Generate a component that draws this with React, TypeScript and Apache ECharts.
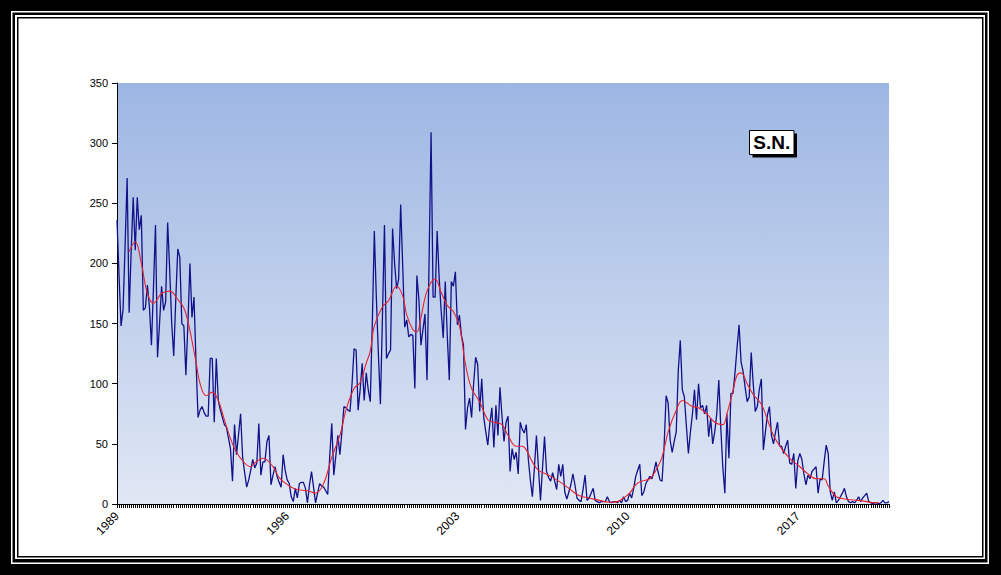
import React, { useEffect, useRef } from "react";
import * as echarts from "echarts";

// Monthly sunspot number, Jan 1989 .. Oct 2020 (one row per year)
const monthlySN: number[] = [
  236, 190, 148, 162, 215, 271, 159, 210, 255, 211, 255, 228, // 1989
  240, 161, 163, 182, 164, 132, 180, 232, 122, 150, 181, 161, // 1990
  168, 234, 195, 150, 123, 170, 212, 205, 150, 148, 107, 150, // 1991
  200, 155, 172, 118, 72, 78, 81, 76, 73, 73, 121, 121, // 1992
  68, 121, 86, 78, 72, 66, 64, 55, 46, 19, 66, 41, // 1993
  58, 75, 39, 26, 14, 20, 28, 37, 30, 34, 67, 24, // 1994
  35, 35, 52, 57, 16, 24, 31, 23, 18, 14, 41, 28, // 1995
  20, 17, 6, 2, 13, 5, 17, 18, 18, 13, 1, 16, // 1996
  27, 14, 1, 9, 17, 15, 14, 11, 8, 40, 67, 24, // 1997
  40, 57, 41, 60, 81, 80, 78, 77, 100, 129, 128, 78, // 1998
  95, 117, 86, 109, 95, 85, 150, 227, 171, 125, 83, 155, // 1999
  232, 121, 125, 128, 229, 200, 179, 187, 249, 198, 147, 153, // 2000
  139, 141, 140, 96, 190, 170, 132, 145, 158, 103, 200, 309, // 2001
  172, 172, 227, 188, 160, 138, 185, 140, 103, 185, 181, 193, // 2002
  149, 157, 140, 132, 62, 80, 88, 72, 100, 122, 116, 77, // 2003
  104, 72, 60, 49, 67, 80, 47, 82, 57, 97, 73, 52, // 2004
  68, 73, 27, 46, 37, 43, 25, 68, 62, 59, 66, 37, // 2005
  20, 6, 30, 57, 30, 3, 30, 56, 27, 22, 19, 26, // 2006
  19, 12, 33, 23, 33, 10, 4, 10, 16, 25, 16, 5, // 2007
  3, 2, 12, 24, 3, 5, 9, 13, 3, 2, 1, 2, // 2008
  2, 2, 6, 2, 1, 2, 2, 1, 3, 1, 6, 2, // 2009
  3, 9, 5, 13, 23, 28, 33, 7, 10, 17, 20, 23, // 2010
  21, 27, 35, 27, 20, 19, 48, 90, 84, 53, 43, 52, // 2011
  60, 111, 136, 95, 89, 65, 42, 60, 75, 95, 70, 100, // 2012
  80, 82, 75, 82, 56, 71, 50, 60, 75, 103, 63, 30, // 2013
  9, 75, 38, 92, 92, 109, 130, 149, 118, 110, 97, 85, // 2014
  89, 126, 100, 77, 81, 95, 104, 45, 60, 74, 81, 57, // 2015
  50, 60, 68, 48, 48, 42, 48, 53, 34, 33, 42, 13, // 2016
  36, 42, 37, 25, 16, 24, 21, 27, 29, 31, 9, 21, // 2017
  20, 35, 49, 42, 10, 3, 10, 1, 3, 6, 9, 13, // 2018
  6, 2, 1, 2, 1, 3, 6, 2, 5, 7, 9, 2, // 2019
  1, 0, 1, 1, 0, 1, 3, 1, 1, 2, // 2020
];

// Smoothed sunspot number read at [month index from Jan 1989, value]
const smoothedSN: [number, number][] = [
  [6, 210], [9, 218], [12, 200], [15, 175], [18, 167], [22, 175], [26, 177], [30, 170],
  [33, 163], [35, 152], [39, 118], [41, 100], [44, 90], [47, 93], [50, 86], [53, 70],
  [57, 50], [61, 38], [66, 31], [68, 34], [72, 38], [77, 31], [80, 22], [85, 15],
  [89, 12], [94, 11], [98, 9], [102, 17], [106, 39], [110, 57], [113, 78], [117, 96],
  [120, 101], [123, 117], [125, 127], [127, 148], [131, 164], [134, 169], [138, 181],
  [141, 173], [143, 157], [146, 145], [148, 143], [150, 155], [153, 177], [157, 187],
  [160, 176], [163, 165], [166, 160], [169, 148], [172, 116], [175, 96], [179, 85],
  [183, 70], [186, 68], [190, 66], [193, 57], [197, 48], [200, 48], [202, 45], [205, 35],
  [208, 28], [213, 24], [218, 19], [223, 13], [228, 7], [233, 5], [238, 3], [243, 1.5],
  [247, 2], [250, 5], [253, 9], [256, 16], [259, 19], [263, 21], [266, 28], [269, 39],
  [272, 60], [276, 78], [279, 86], [284, 81], [287, 80], [291, 75], [295, 68], [299, 66],
  [301, 75], [304, 94], [306, 107], [308, 109], [311, 100], [314, 91], [318, 83],
  [321, 70], [324, 57], [328, 46], [332, 38], [337, 31], [341, 25], [345, 21], [349, 21],
  [351, 15], [355, 6], [360, 4], [366, 3], [370, 2], [374, 1], [376, 1],
];

const startYear = 1989;
const yearLabelStep = 84; // labels every 7 years
const yTicks = { min: 0, max: 350, interval: 50 };
const boxLabel = "S.N.";

const categories: string[] = monthlySN.map((_, i) => {
  const y = startYear + Math.floor(i / 12);
  const m = (i % 12) + 1;
  return `${y}-${m < 10 ? "0" + m : m}`;
});

const smoothedData: (number | null)[] = categories.map(() => null);
smoothedSN.forEach(([i, v]) => {
  smoothedData[i] = v;
});

export default function App() {
  const ref = useRef<HTMLDivElement>(null);
  useEffect(() => {
    const chart = echarts.init(ref.current!, null, { renderer: "svg" });
    const font = "Liberation Sans, Arial, sans-serif";
    chart.setOption({
      animation: false,
      backgroundColor: "#000000",
      grid: {
        left: 117,
        right: 112,
        top: 83,
        bottom: 71,
        show: true,
        borderWidth: 0,
        backgroundColor: new echarts.graphic.LinearGradient(0, 0, 0, 1, [
          { offset: 0, color: "#9db6e3" },
          { offset: 1, color: "#e0e7f4" },
        ]),
      },
      xAxis: {
        type: "category",
        data: categories,
        boundaryGap: false,
        axisLine: { lineStyle: { color: "#000", width: 1 } },
        axisTick: {
          show: true,
          interval: 0,
          length: 4,
          lineStyle: { color: "#000", width: 1 },
        },
        axisLabel: {
          interval: (idx: number) => idx % yearLabelStep === 0,
          formatter: (v: string) => v.slice(0, 4),
          rotate: 45,
          margin: 10,
          color: "#000",
          fontSize: 12,
          fontFamily: font,
        },
        splitLine: { show: false },
      },
      yAxis: {
        type: "value",
        min: yTicks.min,
        max: yTicks.max,
        interval: yTicks.interval,
        axisLine: { show: true, lineStyle: { color: "#000", width: 1 } },
        axisTick: { show: true, length: 5, lineStyle: { color: "#000" } },
        axisLabel: { color: "#000", fontSize: 11, fontFamily: font, margin: 9 },
        splitLine: { show: false },
      },
      series: [
        {
          name: "Monthly",
          type: "line",
          data: monthlySN,
          symbol: "none",
          lineStyle: { color: "#12128a", width: 1.3 },
          z: 2,
        },
        {
          name: "Smoothed",
          type: "line",
          data: smoothedData,
          connectNulls: true,
          smooth: 0.4,
          symbol: "none",
          lineStyle: { color: "#e8232d", width: 1.1 },
          z: 3,
        },
      ],
      graphic: [
        { type: "rect", z: -10, shape: { x: 11, y: 11, width: 978, height: 553 }, style: { fill: "#fff" } },
        { type: "rect", z: -10, shape: { x: 12.5, y: 12.5, width: 975, height: 550 }, style: { fill: "#000" } },
        { type: "rect", z: -10, shape: { x: 15, y: 15, width: 970, height: 544 }, style: { fill: "#fff" } },
        { type: "rect", z: -10, shape: { x: 17, y: 17, width: 966.5, height: 540.5 }, style: { fill: "#000" } },
        { type: "rect", z: -10, shape: { x: 18.5, y: 18.5, width: 963.5, height: 537.5 }, style: { fill: "#fff" } },
        { type: "rect", z: 100, shape: { x: 752.5, y: 133.5, width: 44.5, height: 24 }, style: { fill: "#000" } },
        {
          type: "rect",
          z: 101,
          shape: { x: 749.5, y: 130.5, width: 44.5, height: 24 },
          style: { fill: "#fff", stroke: "#000", lineWidth: 1 },
        },
        {
          type: "text",
          z: 102,
          x: 771.75,
          y: 142.5,
          style: {
            text: boxLabel,
            fill: "#000",
            font: `bold 19px ${font}`,
            align: "center",
            verticalAlign: "middle",
          },
        },
      ],
    });
    return () => chart.dispose();
  }, []);
  return (
    <div
      ref={ref}
      style={{ position: "absolute", left: 0, top: 0, width: 1001, height: 575 }}
    />
  );
}
